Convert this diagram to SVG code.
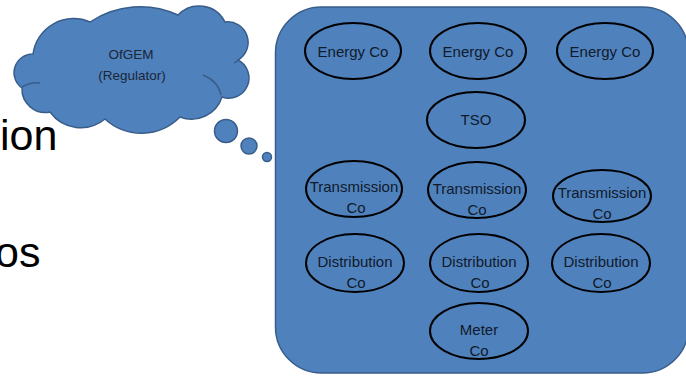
<svg xmlns="http://www.w3.org/2000/svg" width="686" height="376" viewBox="0 0 686 376">
<style>
.bg{fill:#4f81bd;stroke:#385d8a;stroke-width:1.5}
.inner{fill:none;stroke:#385d8a;stroke-width:1.5}
.node ellipse{fill:none;stroke:#000;stroke-width:2}
.lbl{font-family:"Liberation Sans",Arial,sans-serif;font-size:15px;fill:#0f1a2b;text-anchor:middle}
.cl{font-family:"Liberation Sans",Arial,sans-serif;font-size:13.5px;fill:#1b2638;text-anchor:middle}
.big{font-family:"Liberation Sans",Arial,sans-serif;font-size:43px;fill:#000}
</style>
<rect width="686" height="376" fill="#fff"/>
<text class="big" x="0" y="150">ion</text>
<text class="big" x="-5" y="267">os</text>
<g id="regulator">
<path class="bg" d="M22,88 A18.7,18.7 0 0 1 33,54 A41,41 0 0 1 90,22 A90,90 0 0 1 178,15 A29,29 0 0 1 225,22 A20.5,20.5 0 0 1 238,60 A20.2,20.2 0 0 1 222,97 A32,32 0 0 1 180,117 A54,54 0 0 1 105,119 A38,38 0 0 1 50,112 A23.4,23.4 0 0 1 22,88 Z"/>
<path class="inner" d="M203,75 Q218,81 221,95"/>
<path class="inner" d="M22,87 Q31,82 40,83"/>
<path class="inner" d="M238,60 Q237,62 234,63"/>
<text class="cl" x="131" y="59">OfGEM</text>
<text class="cl" x="132" y="80">(Regulator)</text>
<circle class="bg" cx="226" cy="131" r="11.5"/>
<circle class="bg" cx="249" cy="146" r="8"/>
<circle class="bg" cx="267" cy="157" r="4.5"/>
</g>
<g id="industry">
<rect class="bg" x="275.5" y="7" width="413" height="366" rx="46" ry="46"/>
</g>
<g id="connectors"></g>
<g id="energy1" class="node"><ellipse cx="353" cy="51" rx="48" ry="28"/><text class="lbl" x="353" y="57">Energy Co</text></g>
<g id="energy2" class="node"><ellipse cx="478" cy="51" rx="48" ry="28"/><text class="lbl" x="478" y="57">Energy Co</text></g>
<g id="energy3" class="node"><ellipse cx="605" cy="51" rx="48" ry="28"/><text class="lbl" x="605" y="57">Energy Co</text></g>
<g id="tso" class="node"><ellipse cx="476" cy="120" rx="49" ry="28"/><text class="lbl" x="476" y="125">TSO</text></g>
<g id="trans1" class="node"><ellipse cx="354" cy="189" rx="48" ry="28"/><text class="lbl" x="354" y="192">Transmission</text><text class="lbl" x="356" y="213">Co</text></g>
<g id="trans2" class="node"><ellipse cx="477" cy="190" rx="49" ry="28"/><text class="lbl" x="477" y="194">Transmission</text><text class="lbl" x="477" y="215">Co</text></g>
<g id="trans3" class="node"><ellipse cx="602" cy="196" rx="49" ry="26"/><text class="lbl" x="602" y="198">Transmission</text><text class="lbl" x="602" y="219">Co</text></g>
<g id="dist1" class="node"><ellipse cx="355" cy="263" rx="49" ry="29"/><text class="lbl" x="355" y="267">Distribution</text><text class="lbl" x="356" y="288">Co</text></g>
<g id="dist2" class="node"><ellipse cx="479" cy="263" rx="49" ry="29"/><text class="lbl" x="479" y="267">Distribution</text><text class="lbl" x="480" y="288">Co</text></g>
<g id="dist3" class="node"><ellipse cx="601" cy="263" rx="49" ry="29"/><text class="lbl" x="601" y="267">Distribution</text><text class="lbl" x="602" y="288">Co</text></g>
<g id="meter" class="node"><ellipse cx="479" cy="331" rx="49" ry="28"/><text class="lbl" x="479" y="335">Meter</text><text class="lbl" x="479" y="356">Co</text></g>
</svg>
